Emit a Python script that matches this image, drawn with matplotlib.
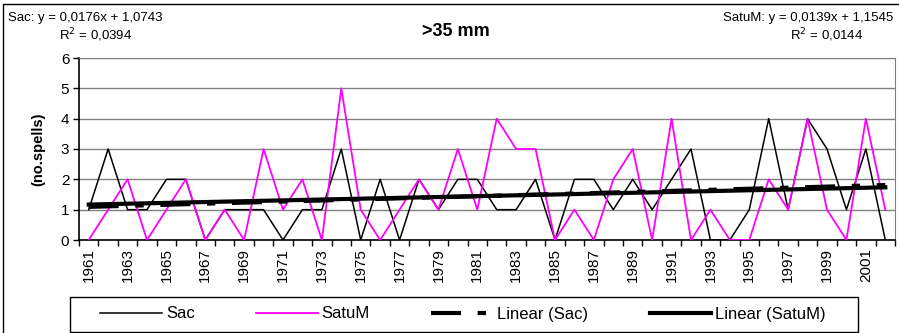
import matplotlib.pyplot as plt
import numpy as np
from matplotlib.lines import Line2D

plt.rcParams['font.family'] = ['Liberation Sans', 'DejaVu Sans']

years = list(range(1961, 2003))
sac = [1, 3, 1, 1, 2, 2, 0, 1, 1, 1,
       0, 1, 1, 3, 0, 2, 0, 2, 1, 2,
       2, 1, 1, 2, 0, 2, 2, 1, 2, 1,
       2, 3, 0, 0, 1, 4, 1, 4, 3, 1,
       3, 0]
satum = [0, 1, 2, 0, 1, 2, 0, 1, 0, 3,
         1, 2, 0, 5, 1, 0, 1, 2, 1, 3,
         1, 4, 3, 3, 0, 1, 0, 2, 3, 0,
         4, 0, 1, 0, 0, 2, 1, 4, 1, 0,
         4, 1]
sac_eq = "Sac: y = 0,0176x + 1,0743"
sac_r2 = "R$^2$ = 0,0394"
satum_eq = "SatuM: y = 0,0139x + 1,1545"
satum_r2 = "R$^2$ = 0,0144"
title = ">35 mm"

W, H = 899, 333
fig = plt.figure(figsize=(W / 100, H / 100), dpi=100)
ax = fig.add_axes([79 / W, 1 - 240 / H, (895 - 79) / W, (240 - 58) / H])

x = np.arange(len(years))
xn = x + 1  # excel trend uses 1..n
p_sac = np.polyfit(xn, sac, 1)
p_sat = np.polyfit(xn, satum, 1)
sac_dash = (0, (7.2, 4, 2, 4))

ax.plot(x, sac, color='black', lw=1.1, zorder=3)
ax.plot(x, satum, color='#ff00ff', lw=1.3, zorder=4)
ax.plot(x, np.polyval(p_sac, xn), color='black', lw=3,
        linestyle=sac_dash, zorder=5)
ax.plot(x, np.polyval(p_sat, xn), color='black', lw=3, zorder=6)

ax.set_xlim(-0.5, len(years) - 0.5)
ax.set_ylim(0, 6)
ax.set_yticks(range(0, 7))
ax.yaxis.grid(True, color='#808080', lw=1)
ax.set_axisbelow(True)

ax.set_xticks(x[::2])
ax.set_xticklabels([str(y) for y in years[::2]], rotation=90)
ax.set_xticks(np.arange(-0.5, len(years), 1), minor=True)
ax.tick_params(axis='x', which='major', length=0, pad=6, labelsize=11)
ax.tick_params(axis='x', which='minor', length=4, width=1, direction='out')
ax.tick_params(axis='y', length=4, width=1, labelsize=11, pad=3)

for s in ['top', 'right']:
    ax.spines[s].set_color('#808080')
for s in ['left', 'bottom']:
    ax.spines[s].set_color('black')
    ax.spines[s].set_linewidth(1.2)

ax.set_ylabel("(no.spells)", fontsize=10.5, fontweight='bold')
ax.yaxis.set_label_coords(-34 / 816, 0.5)

fig.text(8 / W, 1 - 18 / H, sac_eq, fontsize=9.5, va='center', ha='left')
fig.text(96 / W, 1 - 35 / H, sac_r2, fontsize=9.5, va='center', ha='center')
fig.text(893 / W, 1 - 18 / H, satum_eq, fontsize=9.5, va='center', ha='right')
fig.text(827 / W, 1 - 35 / H, satum_r2, fontsize=9.5, va='center', ha='center')
fig.text(456 / W, 1 - 32 / H, title, fontsize=13, fontweight='bold',
         va='center', ha='center')

handles = [
    Line2D([], [], color='black', lw=1.1),
    Line2D([], [], color='#ff00ff', lw=1.3),
    Line2D([], [], color='black', lw=3, linestyle=sac_dash),
    Line2D([], [], color='black', lw=3),
]
labels = ['Sac', 'SatuM', 'Linear (Sac)', 'Linear (SatuM)']
fig.legend(handles, labels, loc='center', ncol=4, mode='expand',
           bbox_to_anchor=(100 / W, 1 - 330 / H, (826 - 100) / W, 32 / H),
           fontsize=12, handlelength=3.7, handletextpad=0.25,
           frameon=False, borderaxespad=0, borderpad=0)

# legend frame
fig.patches.append(plt.Rectangle((70 / W, 1 - 332 / H), 788 / W, 35 / H,
                                 transform=fig.transFigure, fill=False,
                                 edgecolor='black', lw=1))
# chart area border
fig.patches.append(plt.Rectangle((3 / W, -0.1), 1.2, 1.1 - 4 / H,
                                 transform=fig.transFigure, fill=False,
                                 edgecolor='black', lw=1, clip_on=False))

fig.savefig("out.png", dpi=100)
